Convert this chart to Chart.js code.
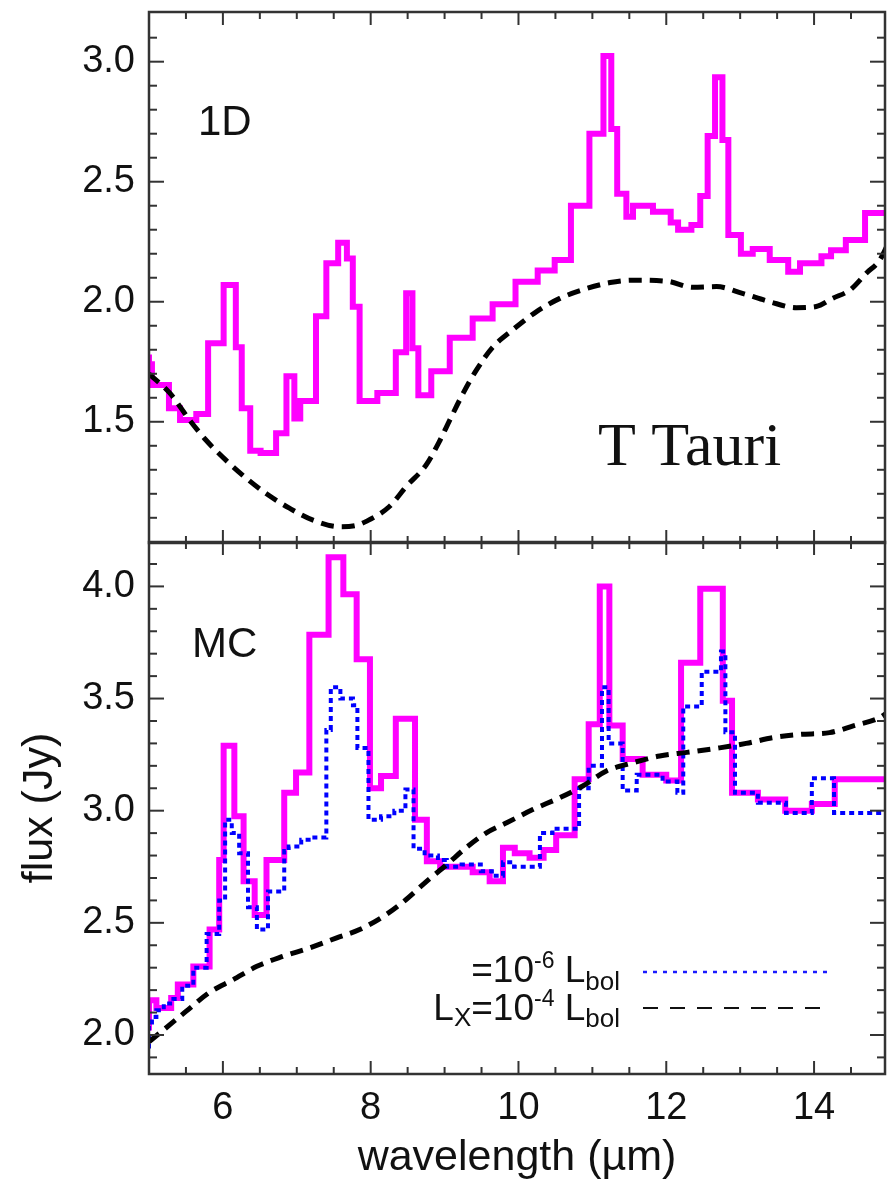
<!DOCTYPE html>
<html>
<head>
<meta charset="utf-8">
<script src="https://cdn.jsdelivr.net/npm/chart.js@4/dist/chart.umd.min.js"></script>
<style>
  body { margin: 0; background: #fff; }
  #wrap { position: relative; width: 888px; height: 1184px; }
  canvas { position: absolute; left: 0; }
  #topChart { top: 0; }
  #bottomChart { top: 535px; }
</style>
</head>
<body>
<div id="wrap">
  <canvas id="topChart" width="888" height="550"></canvas>
  <canvas id="bottomChart" width="888" height="649"></canvas>
</div>
<script>
// ---- data ----
// top panel (1D): histogram bin starts and flux
let topBinStart = [5.00, 5.04, 5.27, 5.42, 5.64, 5.80, 6.01, 6.175, 6.255, 6.37, 6.51, 6.72, 6.86,
    6.967, 7.047, 7.26, 7.40, 7.56, 7.678, 7.758, 7.85, 8.09, 8.34, 8.48, 8.565, 8.645, 8.82, 9.07,
    9.38, 9.65, 9.96, 10.26, 10.49, 10.71, 10.96, 11.15, 11.256, 11.336, 11.46, 11.55, 11.82, 12.06,
    12.16, 12.34, 12.46, 12.56, 12.66, 12.76, 12.84, 13.01, 13.17, 13.40, 13.65, 13.81, 14.10, 14.23,
    14.43, 14.69, 14.88];
let topFlux1D = [1.78, 1.74, 1.653, 1.556, 1.507, 1.532, 1.827, 2.07, 1.81, 1.556, 1.379, 1.37, 1.452,
    1.69, 1.514, 1.587, 1.94, 2.16, 2.246, 2.18, 1.979, 1.587, 1.62, 1.79, 2.035, 1.806, 1.611, 1.71,
    1.85, 1.93, 1.99, 2.083, 2.13, 2.174, 2.40, 2.70, 3.024, 2.72, 2.45, 2.354, 2.40, 2.375,
    2.33, 2.30, 2.32, 2.44, 2.69, 2.935, 2.674, 2.278, 2.20, 2.22, 2.174, 2.125, 2.16, 2.19,
    2.215, 2.257, 2.37];
// top panel continuum (Lx = 1e-4 Lbol)
let topCurveX = [5.0, 5.28, 5.55, 5.77, 6.04, 6.32, 6.59, 6.90, 7.22, 7.58, 7.80, 7.94, 8.25, 8.48, 8.75,
    8.94, 9.07, 9.25, 9.43, 9.65, 9.93, 10.24, 10.56, 10.87, 11.24, 11.55, 12.02, 12.36, 12.68, 13.03,
    13.40, 13.76, 14.03, 14.25, 14.49, 14.71, 14.88, 15.0];
let topCurveY = [1.70, 1.62, 1.507, 1.424, 1.34, 1.264, 1.20, 1.14, 1.09, 1.063, 1.068, 1.085, 1.146, 1.23, 1.32,
    1.424, 1.507, 1.618, 1.715, 1.81, 1.885, 1.958, 2.014, 2.05, 2.08, 2.09, 2.085, 2.06, 2.063, 2.035,
    2.00, 1.975, 1.98, 2.014, 2.05, 2.12, 2.17, 2.24];

// bottom panel (MC)
let mcBinStart = [5.00, 5.10, 5.30, 5.39, 5.60, 5.82, 5.95, 6.01, 6.155, 6.28, 6.43, 6.59, 6.83, 6.99,
    7.17, 7.43, 7.63, 7.81, 7.99, 8.14, 8.34, 8.60, 8.76, 8.94, 9.38, 9.61, 9.79, 9.95, 10.15, 10.34,
    10.51, 10.76, 10.95, 11.10, 11.23, 11.41, 11.68, 12.00, 12.20, 12.46, 12.765, 12.89, 13.24, 13.61,
    13.97, 14.28, 14.62];
let mcFlux = [2.02, 2.155, 2.12, 2.165, 2.225, 2.305, 2.47, 2.78, 3.29, 2.975, 2.685, 2.535, 2.78, 3.08,
    3.17, 3.785, 4.13, 3.965, 3.675, 3.10, 3.155, 3.41, 2.96, 2.775, 2.75, 2.725, 2.685, 2.835, 2.81, 2.79,
    2.825, 2.89, 3.14, 3.385, 4.00, 3.38, 3.23, 3.16, 3.135, 3.66, 3.99, 3.49, 3.08, 3.05,
    3.00, 3.03, 3.14];
// bottom panel, Lx = 1e-6 Lbol (blue dotted)
let lowBinStart = [5.00, 5.04, 5.10, 5.20, 5.33, 5.45, 5.60, 5.78, 5.95, 6.03, 6.12, 6.22, 6.34, 6.46,
    6.61, 6.83, 6.89, 7.06, 7.19, 7.40, 7.46, 7.59, 7.76, 7.82, 7.97, 8.14, 8.32, 8.47, 8.58, 8.73,
    8.91, 9.03, 9.23, 9.49, 9.64, 9.79, 9.94, 10.09, 10.29, 10.46, 10.82, 10.95, 11.13, 11.22, 11.41,
    11.60, 11.95, 12.15, 12.23, 12.48, 12.74, 12.80, 12.93, 13.24, 13.62, 13.97, 14.27, 14.92];
let lowFlux = [1.94, 2.04, 2.08, 2.11, 2.14, 2.16, 2.22, 2.30, 2.45, 2.60, 2.96, 2.90, 2.81, 2.57,
    2.47, 2.64, 2.82, 2.84, 2.87, 2.88, 3.36, 3.55, 3.50, 3.47, 3.28, 2.96, 2.975, 3.00, 3.095, 2.83,
    2.80, 2.78, 2.75, 2.76, 2.73, 2.71, 2.77, 2.75, 2.75, 2.90, 2.92, 3.10, 3.20, 3.55, 3.30,
    3.09, 3.16, 3.13, 3.08, 3.465, 3.62, 3.71, 3.35, 3.08, 3.035, 2.99, 3.145, 2.99];
// bottom panel continuum (Lx = 1e-4 Lbol)
let mcCurveX = [5.0, 5.15, 5.5, 5.82, 6.14, 6.46, 6.81, 7.17, 7.54, 7.85, 8.21, 8.48, 8.76, 9.03, 9.29,
    9.56, 9.84, 10.20, 10.56, 10.87, 11.19, 11.55, 11.91, 12.28, 12.72, 13.08, 13.45, 13.81, 14.21,
    14.53, 14.89, 15.0];
let mcCurveY = [1.97, 2.01, 2.105, 2.19, 2.247, 2.306, 2.35, 2.388, 2.433, 2.47, 2.537, 2.604, 2.686, 2.76, 2.835,
    2.90, 2.946, 3.006, 3.058, 3.11, 3.177, 3.214, 3.244, 3.26, 3.28, 3.30, 3.326, 3.34, 3.348,
    3.378, 3.415, 3.44];

let xStart = 5;
let xEnd = 14.96;
let xTickLabels = [6, 8, 10, 12, 14];
let topYTicks = [1.5, 2.0, 2.5, 3.0];
let bottomYTicks = [2.0, 2.5, 3.0, 3.5, 4.0];

// ---- helpers ----
function stepPoints(starts, values, end) {
    let pts = starts.map((x, i) => ({x: x, y: values[i]}));
    pts.push({x: end, y: values[values.length - 1]});
    return pts;
}
function curvePoints(xs, ys) {
    return xs.map((x, i) => ({x: x, y: ys[i]}));
}
function minorTicks(from, to, step, majors) {
    let out = [];
    for (let v = from; v <= to + 1e-9; v += step) {
        let r = Math.round(v * 100) / 100;
        if (!majors.some(m => Math.abs(m - r) < 1e-6)) out.push(r);
    }
    return out;
}

const FONT = "'Liberation Sans', Arial, sans-serif";
Chart.defaults.font.family = FONT;
Chart.defaults.color = "#111";

// frame with inward ticks on all four sides
const frameTicks = {
    id: "frameTicks",
    afterDatasetsDraw(chart, args, opts) {
        let {ctx, chartArea: a} = chart;
        let xs = chart.scales.x, ys = chart.scales.y;
        ctx.save();
        ctx.strokeStyle = "#333";
        ctx.lineWidth = 2;
        let line = (x1, y1, x2, y2) => {
            ctx.beginPath(); ctx.moveTo(x1, y1); ctx.lineTo(x2, y2); ctx.stroke();
        };
        opts.xMajor.forEach(v => {
            let p = xs.getPixelForValue(v);
            line(p, a.top, p, a.top + 13); line(p, a.bottom, p, a.bottom - 13);
        });
        opts.xMinor.forEach(v => {
            let p = xs.getPixelForValue(v);
            line(p, a.top, p, a.top + 7); line(p, a.bottom, p, a.bottom - 7);
        });
        opts.yMajor.forEach(v => {
            let p = ys.getPixelForValue(v);
            line(a.left, p, a.left + 15, p); line(a.right, p, a.right - 15, p);
        });
        opts.yMinor.forEach(v => {
            let p = ys.getPixelForValue(v);
            if (p < a.top + 2 || p > a.bottom - 2) return;
            line(a.left, p, a.left + 8, p); line(a.right, p, a.right - 8, p);
        });
        ctx.lineWidth = 2.5;
        ctx.strokeRect(a.left, a.top, a.right - a.left, a.bottom - a.top);
        ctx.restore();
    }
};

// panel labels and the hand made legend
const notes = {
    id: "notes",
    afterDraw(chart, args, opts) {
        let ctx = chart.ctx;
        ctx.save();
        ctx.fillStyle = "#111";
        ctx.textBaseline = "alphabetic";
        ctx.textAlign = "left";
        (opts.labels || []).forEach(l => {
            ctx.font = l.font;
            ctx.fillText(l.text, l.x, l.y);
        });
        (opts.legend || []).forEach(row => {
            // pieces drawn right to left, right aligned at row.right
            let x = row.right;
            for (let i = row.parts.length - 1; i >= 0; i--) {
                let p = row.parts[i];
                ctx.font = p.size + "px " + FONT;
                x -= ctx.measureText(p.t).width;
                ctx.fillText(p.t, x, row.y + (p.dy || 0));
            }
            ctx.strokeStyle = row.color;
            ctx.lineWidth = row.width;
            ctx.setLineDash(row.dash);
            ctx.beginPath();
            ctx.moveTo(row.x1, row.lineY);
            ctx.lineTo(row.x2, row.lineY);
            ctx.stroke();
            ctx.setLineDash([]);
        });
        ctx.restore();
    }
};

let xMinor = minorTicks(5.5, 14.5, 0.5, xTickLabels);

function yAxis(min, max, ticks, title) {
    let axis = {
        type: "linear", min: min, max: max,
        afterFit: s => { s.width = 149; s.paddingTop = 0; s.paddingBottom = 0; },
        afterBuildTicks: s => { s.ticks = ticks.map(v => ({value: v})); },
        grid: {display: false, drawTicks: false},
        border: {display: false},
        ticks: {padding: 14, font: {size: 38}, color: "#111", callback: v => v.toFixed(1)}
    };
    if (title) {
        axis.title = {display: true, text: title, font: {size: 43}, color: "#111", padding: {top: 14, bottom: 0}};
    }
    return axis;
}

// ---- top panel ----
new Chart(document.getElementById("topChart"), {
    type: "line",
    data: {
        datasets: [{
            label: "Lx=1e-4 Lbol",
            data: curvePoints(topCurveX, topCurveY),
            borderColor: "#000",
            borderWidth: 5,
            borderDash: [13, 8],
            pointRadius: 0,
            tension: 0.4,
            cubicInterpolationMode: "monotone",
            order: 0
        }, {
            label: "1D",
            data: stepPoints(topBinStart, topFlux1D, 15),
            borderColor: "#ff00ff",
            borderWidth: 6,
            stepped: "after",
            pointRadius: 0,
            order: 2
        }]
    },
    options: {
        responsive: false,
        animation: false,
        devicePixelRatio: 1,
        layout: {padding: {top: 12, right: 3, bottom: 7, left: 0}},
        plugins: {
            legend: {display: false},
            tooltip: {enabled: false},
            frameTicks: {
                xMajor: xTickLabels, xMinor: xMinor,
                yMajor: topYTicks, yMinor: minorTicks(1.1, 3.1, 0.1, topYTicks)
            },
            notes: {
                labels: [
                    {text: "1D", x: 198, y: 135, font: "42px " + FONT},
                    {text: "T Tauri", x: 598, y: 465, font: "62px 'Liberation Serif', 'Times New Roman', serif"}
                ]
            }
        },
        scales: {
            x: {type: "linear", min: xStart, max: xEnd, display: false},
            y: yAxis(0.995, 3.207, topYTicks, null)
        }
    },
    plugins: [frameTicks, notes]
});

// ---- bottom panel ----
new Chart(document.getElementById("bottomChart"), {
    type: "line",
    data: {
        datasets: [{
            label: "Lx=1e-4 Lbol",
            data: curvePoints(mcCurveX, mcCurveY),
            borderColor: "#000",
            borderWidth: 5,
            borderDash: [13, 8],
            pointRadius: 0,
            tension: 0.4,
            cubicInterpolationMode: "monotone",
            order: 0
        }, {
            label: "Lx=1e-6 Lbol",
            data: stepPoints(lowBinStart, lowFlux, 15),
            borderColor: "#0000ff",
            borderWidth: 4,
            borderDash: [5, 4],
            stepped: "after",
            pointRadius: 0,
            order: 1
        }, {
            label: "MC",
            data: stepPoints(mcBinStart, mcFlux, 15),
            borderColor: "#ff00ff",
            borderWidth: 6,
            stepped: "after",
            pointRadius: 0,
            order: 2
        }]
    },
    options: {
        responsive: false,
        animation: false,
        devicePixelRatio: 1,
        layout: {padding: {top: 7, right: 3, bottom: 0, left: 0}},
        plugins: {
            legend: {display: false},
            tooltip: {enabled: false},
            frameTicks: {
                xMajor: xTickLabels, xMinor: xMinor,
                yMajor: bottomYTicks, yMinor: minorTicks(1.9, 4.1, 0.1, bottomYTicks)
            },
            notes: {
                labels: [
                    {text: "MC", x: 192, y: 122, font: "42px " + FONT}
                ],
                legend: [{
                    right: 620, y: 447,
                    parts: [{t: "=10", size: 37}, {t: "-6", size: 23, dy: -14}, {t: " L", size: 37}, {t: "bol", size: 26, dy: 8}],
                    x1: 643, x2: 830, lineY: 437, color: "#1a1aff", width: 2.5, dash: [4, 6]
                }, {
                    right: 620, y: 485,
                    parts: [{t: "L", size: 37}, {t: "X", size: 26, dy: 6}, {t: "=10", size: 37}, {t: "-4", size: 23, dy: -14},
                        {t: " L", size: 37}, {t: "bol", size: 26, dy: 7}],
                    x1: 643, x2: 826, lineY: 473, color: "#111", width: 2, dash: [15, 12]
                }]
            }
        },
        scales: {
            x: {
                type: "linear", min: xStart, max: xEnd,
                afterFit: s => { s.height = 110; s.paddingLeft = 0; s.paddingRight = 0; },
                afterBuildTicks: s => { s.ticks = xTickLabels.map(v => ({value: v})); },
                grid: {display: false, drawTicks: false},
                border: {display: false},
                ticks: {padding: 12, font: {size: 38}, color: "#111", maxRotation: 0, autoSkip: false},
                title: {display: true, text: "wavelength (\u00b5m)", font: {size: 43}, color: "#111", padding: {top: 0, bottom: 0}}
            },
            y: yAxis(1.826, 4.198, bottomYTicks, "flux (Jy)")
        }
    },
    plugins: [frameTicks, notes]
});
</script>
</body>
</html>
